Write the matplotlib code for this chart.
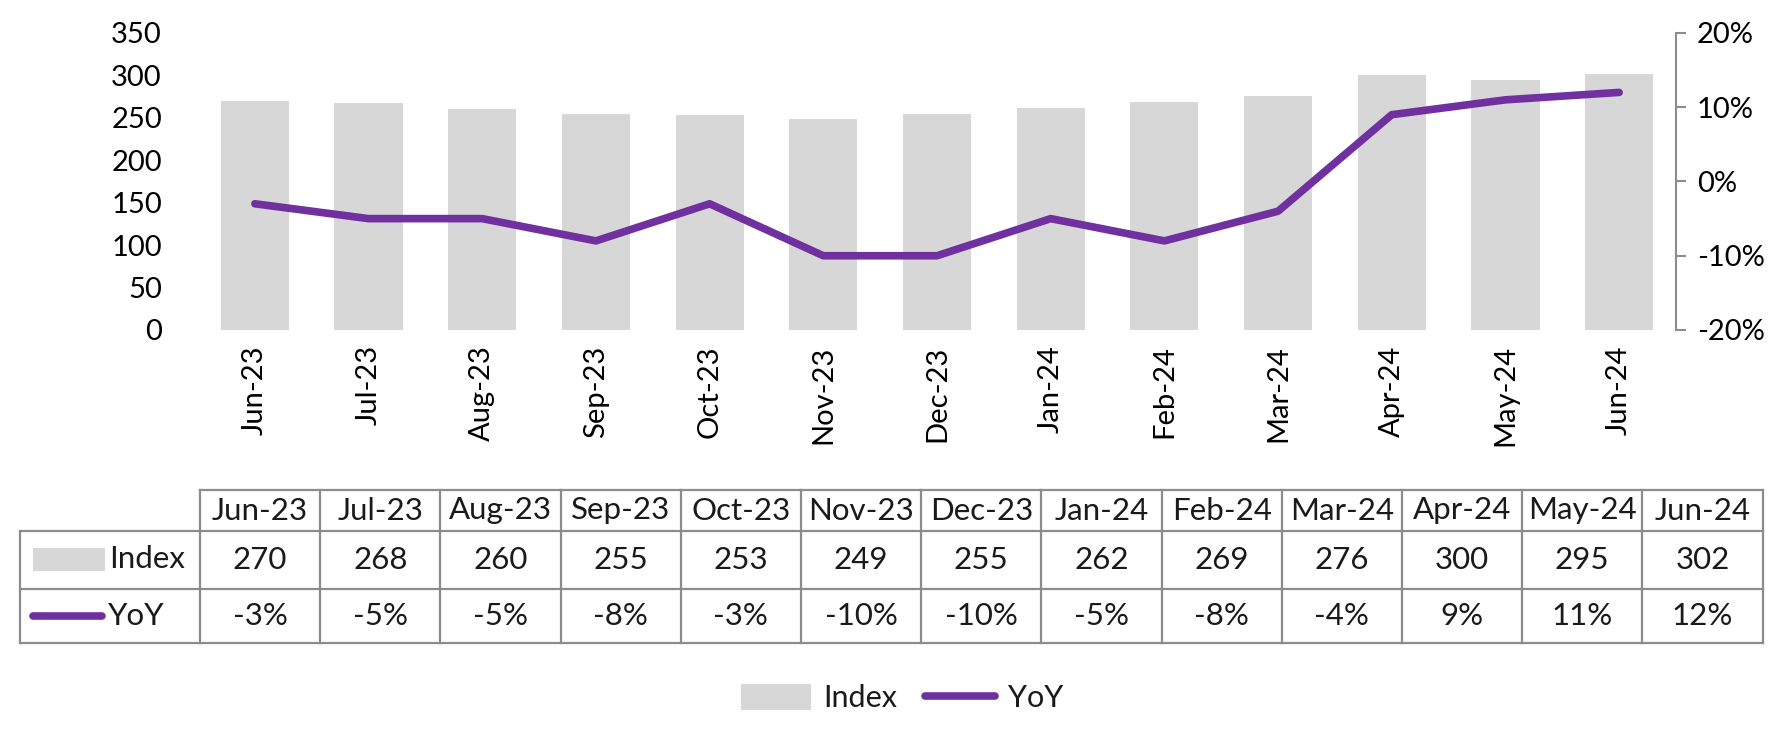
import matplotlib
matplotlib.use("Agg")
import matplotlib.pyplot as plt
from matplotlib.patches import Rectangle
import numpy as np

months = ['Jun-23', 'Jul-23', 'Aug-23', 'Sep-23', 'Oct-23', 'Nov-23', 'Dec-23',
          'Jan-24', 'Feb-24', 'Mar-24', 'Apr-24', 'May-24', 'Jun-24']
index_vals = [270, 268, 260, 255, 253, 249, 255, 262, 269, 276, 300, 295, 302]
yoy_vals = [-3, -5, -5, -8, -3, -10, -10, -5, -8, -4, 9, 11, 12]

bar_color = '#D7D7D7'
line_color = '#7030A0'
grid_color = '#8C8C8C'

plt.rcParams['font.family'] = ['Lato', 'DejaVu Sans']
plt.rcParams['font.size'] = 20
plt.rcParams['text.color'] = '#1a1a1a'

W, H = 1779, 729
fig = plt.figure(figsize=(W / 100, H / 100), dpi=100)

# main chart area (pixel box 198..1676 x 33..330)
ax = fig.add_axes([198 / W, 1 - 330 / H, (1676 - 198) / W, (330 - 33) / H])
x = np.arange(len(months))
bars = ax.bar(x, index_vals, width=0.6, color=bar_color, label='Index')
ax.set_xlim(-0.5, len(months) - 0.5)
ax.set_ylim(0, 350)
ax.set_yticks(np.arange(0, 351, 50))
ax.set_xticks(x, months, rotation=90)
ax.tick_params(axis='y', length=0, pad=26, labelsize=21)
ax.tick_params(axis='x', length=0, pad=11, labelsize=21)
for s in ax.spines.values():
    s.set_visible(False)

ax2 = ax.twinx()
line, = ax2.plot(x, np.array(yoy_vals) / 100, color=line_color, lw=5.5,
                 solid_capstyle='round', label='YoY')
ax2.set_ylim(-0.2, 0.2)
ax2.set_yticks([-0.2, -0.1, 0, 0.1, 0.2])
ax2.set_yticklabels(['-20%', '-10%', '0%', '10%', '20%'])
ax2.tick_params(axis='y', length=7, width=1.5, color=grid_color, pad=8, labelsize=21)
for k in ['top', 'left', 'bottom']:
    ax2.spines[k].set_visible(False)
ax2.spines['right'].set_color(grid_color)
ax2.spines['right'].set_linewidth(1.5)

# data table under the chart, drawn in pixel coordinates
tax = fig.add_axes([0, 0, 1, 1])
tax.set_xlim(0, W)
tax.set_ylim(H, 0)
tax.axis('off')

col0, col_w = 200, 120.2
lab_left = 20
rows_y = [490, 531, 589, 643]
right = col0 + col_w * len(months)
lkw = dict(color=grid_color, lw=1.6, solid_capstyle='projecting')
fs = 22.5

tax.plot([col0, right], [rows_y[0], rows_y[0]], **lkw)
for yy in rows_y[1:]:
    tax.plot([lab_left, right], [yy, yy], **lkw)
tax.plot([lab_left, lab_left], [rows_y[1], rows_y[3]], **lkw)
for i in range(len(months) + 1):
    xx = col0 + i * col_w
    tax.plot([xx, xx], [rows_y[0], rows_y[3]], **lkw)

for i, m in enumerate(months):
    cx = col0 + (i + 0.5) * col_w
    tax.text(cx, (rows_y[0] + rows_y[1]) / 2, m, ha='center', va='center', fontsize=fs)
    tax.text(cx, (rows_y[1] + rows_y[2]) / 2, str(index_vals[i]),
             ha='center', va='center', fontsize=fs)
    tax.text(cx, (rows_y[2] + rows_y[3]) / 2, f'{yoy_vals[i]}%',
             ha='center', va='center', fontsize=fs)

# row keys
tax.add_patch(Rectangle((33, 548), 72, 23, color=bar_color, lw=0))
tax.text(109, 559, 'Index', ha='left', va='center', fontsize=fs)
tax.plot([33, 102], [616, 616], color=line_color, lw=5.5, solid_capstyle='round')
tax.text(108, 616, 'YoY', ha='left', va='center', fontsize=fs)

fig.legend(handles=[bars, line], labels=['Index', 'YoY'], loc='lower center',
           bbox_to_anchor=(0.507, -0.015), ncol=2, frameon=False, fontsize=22,
           handlelength=2.3, handleheight=0.9, columnspacing=0.9, handletextpad=0.4)

fig.savefig('out.png', dpi=100)
